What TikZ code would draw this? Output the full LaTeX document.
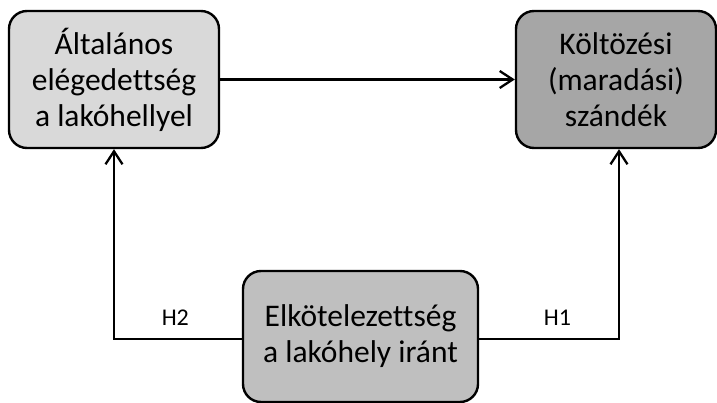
\documentclass[tikz,border=0pt]{standalone}
\usepackage{fontspec}
\setmainfont{Carlito}[Ligatures={NoCommon}]
\usepackage{xcolor}
\usetikzlibrary{arrows.meta}
\definecolor{lightbox}{HTML}{D9D9D9}
\definecolor{midbox}{HTML}{BFBFBF}
\definecolor{darkbox}{HTML}{A6A6A6}
\tikzset{
	blokk/.style={draw=black, line width=2.4pt, rounded corners=18pt, align=center, inner sep=0pt, font=\fontsize{31.5}{36}\selectfont},
	nyil/.style={line width=2.3pt, -{Straight Barb[length=13pt,width=17pt]}},
	hcimke/.style={font=\fontsize{24}{28}\selectfont, above=9pt}
}
\begin{document}
\begin{tikzpicture}[x=1pt, y=-1pt]
				% Boxes and connectors:
				\useasboundingbox (0, 0) rectangle (717, 403);
				\node[blokk, fill=lightbox, minimum width=210pt, minimum height=137pt](Altalanos) at (114, 79.5){Általános\\elégedettség\\a lakóhellyel};
				\node[blokk, fill=darkbox, minimum width=200pt, minimum height=137pt](Koltozes) at (616, 79.5){Költözési\\(maradási)\\szándék};
				\node[blokk, fill=midbox, minimum width=235pt, minimum height=131pt](Elkotelezett) at (360.5, 336.5){Elkötelezettség\\a lakóhely iránt};
				\draw[nyil] (Altalanos) -- (Koltozes);
				\draw[nyil] ([yshift=-2.5pt]Elkotelezett.west) -| (Altalanos.south) node[hcimke, pos=0.26]{H2};
				\draw[nyil] ([yshift=-2.5pt]Elkotelezett.east) -| ([xshift=3pt]Koltozes.south) node[hcimke, pos=0.28]{H1};
			\end{tikzpicture}
\end{document}
